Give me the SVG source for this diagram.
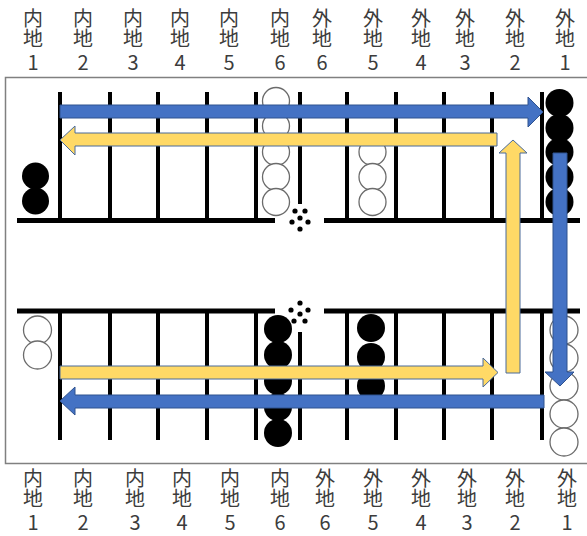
<svg xmlns="http://www.w3.org/2000/svg" width="587" height="536" viewBox="0 0 587 536">
<defs>
<style>
.lbl{font-family:"Noto Sans CJK JP","Noto Sans",sans-serif;font-size:20px;fill:#3c3c3c;text-anchor:middle}
.v{writing-mode:vertical-rl;text-anchor:start}
.pt{stroke:#000;stroke-width:4}
.bar{stroke:#000;stroke-width:5}
.bk{fill:#000}
.wh{fill:#fff;stroke:#6b6b6b;stroke-width:1.3}
.dot{fill:#000}
.blue{fill:#4472C4;stroke:#2F528F;stroke-width:1}
.yel{fill:#FFD966;stroke:#4a6a9a;stroke-width:1}
</style>
</defs>
<rect width="587" height="536" fill="#fff"/>
<g id="labels-top" class="lbl">
<text class="v" x="33" y="8">内地</text><text x="33" y="70">1</text>
<text class="v" x="83" y="8">内地</text><text x="83" y="70">2</text>
<text class="v" x="133" y="8">内地</text><text x="133" y="70">3</text>
<text class="v" x="180" y="8">内地</text><text x="180" y="70">4</text>
<text class="v" x="229" y="8">内地</text><text x="229" y="70">5</text>
<text class="v" x="280" y="8">内地</text><text x="280" y="70">6</text>
<text class="v" x="322" y="8">外地</text><text x="322" y="70">6</text>
<text class="v" x="373" y="8">外地</text><text x="373" y="70">5</text>
<text class="v" x="421" y="8">外地</text><text x="421" y="70">4</text>
<text class="v" x="465" y="8">外地</text><text x="465" y="70">3</text>
<text class="v" x="515" y="8">外地</text><text x="515" y="70">2</text>
<text class="v" x="565" y="8">外地</text><text x="565" y="70">1</text>
</g>
<g id="labels-bottom" class="lbl">
<text class="v" x="33" y="468">内地</text><text x="33" y="530">1</text>
<text class="v" x="83" y="468">内地</text><text x="83" y="530">2</text>
<text class="v" x="135" y="468">内地</text><text x="135" y="530">3</text>
<text class="v" x="182" y="468">内地</text><text x="182" y="530">4</text>
<text class="v" x="230" y="468">内地</text><text x="230" y="530">5</text>
<text class="v" x="280" y="468">内地</text><text x="280" y="530">6</text>
<text class="v" x="325" y="468">外地</text><text x="325" y="530">6</text>
<text class="v" x="373" y="468">外地</text><text x="373" y="530">5</text>
<text class="v" x="421" y="468">外地</text><text x="421" y="530">4</text>
<text class="v" x="467" y="468">外地</text><text x="467" y="530">3</text>
<text class="v" x="515" y="468">外地</text><text x="515" y="530">2</text>
<text class="v" x="567" y="468">外地</text><text x="567" y="530">1</text>
</g>
<g id="board">
<path d="M590 77.5H5.5V463.5H590" fill="none" stroke="#808080" stroke-width="1.5"/>
<g class="bar">
<line x1="17" y1="220.5" x2="275" y2="220.5"/>
<line x1="324" y1="220.5" x2="580" y2="220.5"/>
<line x1="17" y1="311" x2="275" y2="311"/>
<line x1="324" y1="311" x2="580" y2="311"/>
</g>
<g class="pt">
<path d="M60 92V218M110 92V218M158 92V218M207 92V218M256 92V218M300 92V204M347 92V218M396 92V218M444 92V218M492 92V218M542 92V218"/>
<path d="M60 311V440M110 311V440M158 311V440M207 311V440M256 311V440M300 332V440M347 311V440M396 311V440M444 311V440M492 311V440M542 311V440"/>
</g>
<g id="dice-top" class="dot">
<circle cx="295" cy="211" r="2.6"/><circle cx="305" cy="211" r="2.6"/><circle cx="300" cy="218" r="2.6"/>
<circle cx="292" cy="222" r="2.6"/><circle cx="308" cy="222" r="2.6"/><circle cx="300" cy="229" r="2.6"/>
</g>
<g id="dice-bottom" class="dot">
<circle cx="300" cy="303" r="2.6"/><circle cx="291" cy="310" r="2.6"/><circle cx="308" cy="310" r="2.6"/>
<circle cx="300" cy="314" r="2.6"/><circle cx="294" cy="321" r="2.6"/><circle cx="305" cy="321" r="2.6"/>
</g>
</g>
<g id="pieces">
<g id="stack-inner1-top" class="bk"><circle cx="35.5" cy="176" r="13.5"/><circle cx="35.5" cy="201" r="13.5"/></g>
<g id="stack-inner6-top" class="wh"><circle cx="276" cy="101" r="13.5"/><circle cx="276" cy="126" r="13.5"/><circle cx="276" cy="152" r="13.5"/><circle cx="276" cy="177" r="13.5"/><circle cx="276" cy="202" r="13.5"/></g>
<g id="stack-outer5-top" class="wh"><circle cx="372.5" cy="152" r="13.5"/><circle cx="372.5" cy="177" r="13.5"/><circle cx="372.5" cy="202" r="13.5"/></g>
<g id="stack-outer1-top" class="bk"><circle cx="559.5" cy="103" r="14"/><circle cx="559.5" cy="128" r="14"/><circle cx="559.5" cy="152" r="14"/><circle cx="559.5" cy="177" r="14"/><circle cx="559.5" cy="202" r="14"/></g>
<g id="stack-inner1-bottom" class="wh"><circle cx="37.5" cy="330" r="14"/><circle cx="37.5" cy="355" r="14"/></g>
<g id="stack-inner6-bottom" class="bk"><circle cx="278" cy="329" r="14"/><circle cx="278" cy="355" r="14"/><circle cx="278" cy="381" r="14"/><circle cx="278" cy="407" r="14"/><circle cx="278" cy="433" r="14"/></g>
<g id="stack-outer5-bottom" class="bk"><circle cx="371" cy="328" r="14"/><circle cx="371" cy="357" r="14"/><circle cx="371" cy="386" r="14"/></g>
<g id="stack-outer1-bottom" class="wh"><circle cx="564" cy="330" r="14"/><circle cx="564" cy="358" r="14"/><circle cx="564" cy="386" r="14"/><circle cx="564" cy="414" r="14"/><circle cx="564" cy="442" r="14"/></g>
</g>
<g id="connectors">
<polygon class="blue" points="60,105 528,105 528,97 543,112 528,127 528,118 60,118"/>
<polygon class="yel" points="497,133 75,133 75,126 60,140 75,155 75,146 497,146"/>
<polygon class="yel" points="506,373 506,153 499,153 513,140 527,153 520,153 520,373"/>
<polygon class="blue" points="553,153 567,153 567,372 574,372 560,386 545,372 553,372"/>
<polygon class="yel" points="60,366 483,366 483,358 498,372.5 483,387 483,379 60,379"/>
<polygon class="blue" points="544,395 75,395 75,387 60,401 75,415 75,408 544,408"/>
</g>
</svg>
